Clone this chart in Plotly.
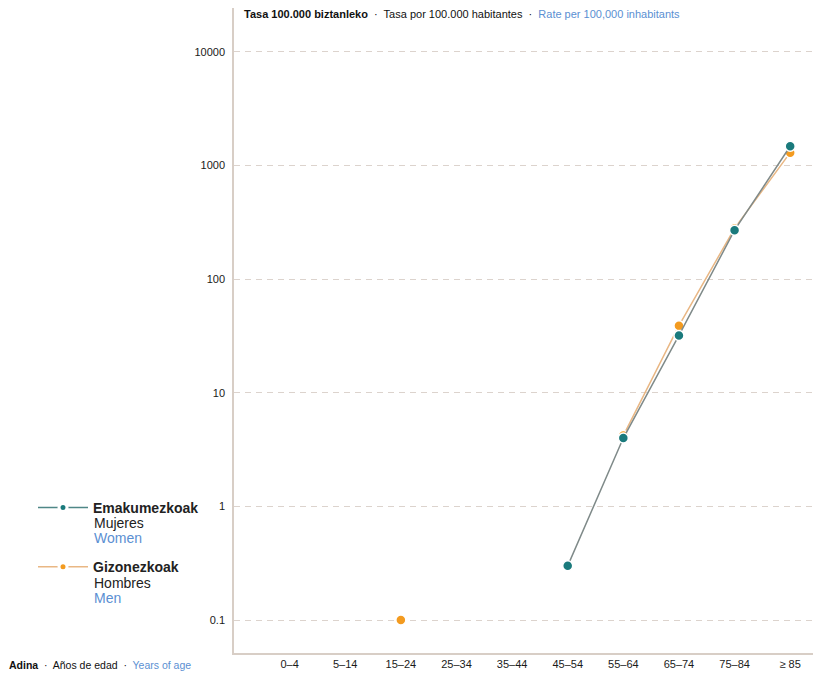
import plotly.graph_objects as go

age_groups = ["0–4", "5–14", "15–24", "25–34", "35–44", "45–54", "55–64", "65–74", "75–84", "≥ 85"]
women = [None, None, None, None, None, 0.3, 4.0, 32, 270, 1480]
men = [None, None, 0.1, None, None, None, 4.2, 39, 280, 1300]
y_ticks = [0.1, 1, 10, 100, 1000, 10000]
y_tick_labels = ["0.1", "1", "10", "100", "1000", "10000"]

W_LINE = "#7f8a89"
W_MARK = "#1a7a7c"
M_LINE = "#e9b784"
M_MARK = "#f39b20"
BLUE = "#5b8fd2"
FONT = "Liberation Sans"

# plot area in window pixels (page body has an 8px margin)
PL, PR, PT, PB = 234, 818, 8, 653

fig = go.Figure()
fig.add_trace(go.Scatter(x=age_groups, y=men, mode="lines+markers",
                         line=dict(color=M_LINE, width=1.5),
                         marker=dict(color=M_MARK, size=10, line=dict(color="white", width=1.5)),
                         showlegend=False, connectgaps=False))
fig.add_trace(go.Scatter(x=age_groups, y=women, mode="lines+markers",
                         line=dict(color=W_LINE, width=1.5),
                         marker=dict(color=W_MARK, size=10, line=dict(color="white", width=1.5)),
                         showlegend=False, connectgaps=False))
# legend entries
fig.add_trace(go.Scatter(x=[None], y=[None], mode="lines+markers",
                         line=dict(color="#4f8787", width=1.5),
                         marker=dict(color=W_MARK, size=8, line=dict(color="white", width=3)),
                         name="<b>Emakumezkoak</b>", legendgroup="w"))
fig.add_trace(go.Scatter(x=[None], y=[None], mode="lines+markers",
                         line=dict(color=M_LINE, width=1.5),
                         marker=dict(color=M_MARK, size=8, line=dict(color="white", width=3)),
                         name="<b>Gizonezkoak</b>", legendgroup="m"))

def px_x(px):
    return (px - PL) / float(PR - PL)

def px_y(py):
    return (PB - py) / float(PB - PT)

legend_sub = [
    ("Mujeres", "#222", 523),
    ("Women", BLUE, 538),
    ("Hombres", "#222", 583),
    ("Men", BLUE, 598),
]

annotations = [
    dict(text="<b>Tasa 100.000 biztanleko</b>  ·  Tasa por 100.000 habitantes  ·  <span style='color:%s'>Rate per 100,000 inhabitants</span>" % BLUE,
         xref="paper", yref="paper", x=px_x(242), y=px_y(14), xanchor="left", yanchor="middle",
         showarrow=False, font=dict(size=11, family=FONT, color="#111")),
    dict(text="<b>Adina</b>  ·  Años de edad  ·  <span style='color:%s'>Years of age</span>" % BLUE,
         xref="paper", yref="paper", x=px_x(7), y=px_y(665), xanchor="left", yanchor="middle",
         showarrow=False, font=dict(size=10.5, family=FONT, color="#111")),
]
for txt, col, ypx in legend_sub:
    annotations.append(dict(text=txt, xref="paper", yref="paper", x=px_x(92), y=px_y(ypx),
                            xanchor="left", yanchor="middle", showarrow=False,
                            font=dict(size=14, family=FONT, color=col)))

fig.update_layout(
    width=821, height=679,
    margin=dict(l=PL - 8, r=821 + 8 - PR, t=0, b=679 + 8 - PB, autoexpand=False),
    paper_bgcolor="white", plot_bgcolor="white",
    font=dict(family=FONT, color="#111", size=10),
    legend=dict(x=px_x(33), y=px_y(492), xanchor="left", yanchor="top",
                font=dict(size=14, family=FONT, color="#222"),
                valign="top", traceorder="grouped", tracegroupgap=38,
                bgcolor="rgba(0,0,0,0)", itemwidth=50),
    xaxis=dict(type="category", categoryorder="array", categoryarray=age_groups,
               range=[-1, 9.5], showgrid=False, showline=True, linecolor="#d8cec6",
               linewidth=1.5, ticks="", tickfont=dict(size=11, color="#1a1a1a"),
               zeroline=False),
    yaxis=dict(type="log", range=[-1.29, 4.387], tickvals=y_ticks, ticktext=y_tick_labels,
               showgrid=True, gridcolor="#dcd3cd", griddash="6px,5px", gridwidth=1,
               showline=True, linecolor="#d8cec6", linewidth=1.5, ticks="",
               tickfont=dict(size=11, color="#1a1a1a"), ticklabelstandoff=5, zeroline=False),
    annotations=annotations,
)

fig.write_html("out.html")
